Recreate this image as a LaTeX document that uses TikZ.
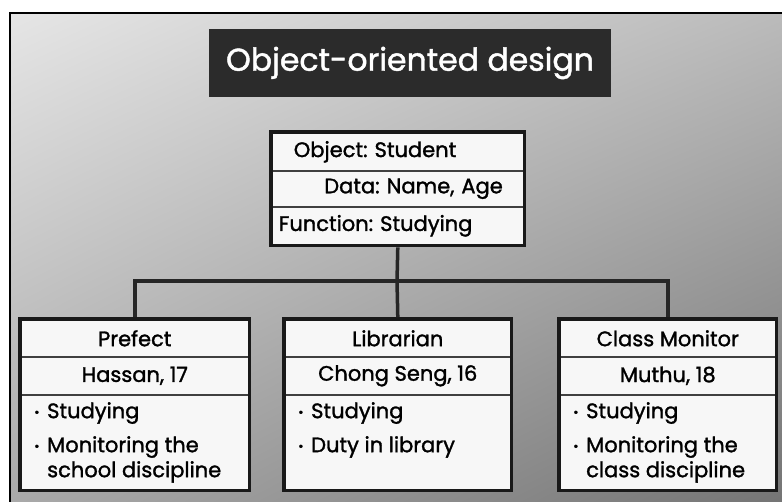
\documentclass[tikz,border=0pt]{standalone}
\usepackage{fontspec}
\setmainfont{Poppins}[FakeBold=1.4]
\usetikzlibrary{positioning,fit,shadings}

\newcommand\itembul{\makebox[13pt][l]{\raisebox{1.5pt}{\fontsize{13}{13}\selectfont\textbullet}}}
\frenchspacing

\begin{document}
\begin{tikzpicture}[x=1pt,y=-1pt,
		rowbox/.style={draw=black!75,line width=1.6pt,fill=black!3,anchor=north west,
			inner sep=0pt,font=\fontsize{21}{25}\selectfont,align=center},
		listtext/.style={anchor=north west,inner sep=0pt,align=left,
			font=\fontsize{21}{25}\selectfont},
		boxframe/.style={draw=black!90,line width=3.5pt,inner sep=0pt},
		link/.style={draw=black!85,line width=3.5pt},
		titlebox/.style={fill=black!83,text=white,minimum width=402pt,minimum height=68pt,
			font=\fontsize{31.5}{36}\selectfont}
	]

	\useasboundingbox (0,0) rectangle (782,501);
	\clip (0,0) rectangle (782,501);

	% slide background
	\shade[upper left=black!10,upper right=black!27,lower left=black!34,lower right=black!55]
		(10,13) rectangle (790,510);
	\draw[line width=1.5pt] (10,510) -- (10,13) -- (790,13);

	\node [titlebox] (title) at (410,63) {Object-oriented design};

	% the object
	\node [rowbox, text width=252pt, minimum height=38pt] (stuA) at (271,132)
		{\hspace*{22pt}Object: Student\hfill\null};
	\node [rowbox, text width=252pt, minimum height=36pt] (stuB) at (271,170)
		{\null\hfill Data: Name, Age\hspace*{21pt}\null};
	\node [rowbox, text width=252pt, minimum height=38pt] (stuC) at (271,206)
		{\hspace*{7pt}Function: Studying\hfill\null};
	\node [boxframe, fit=(stuA)(stuC)] (stu) {};

	% prefect
	\node [rowbox, minimum width=228pt, minimum height=37pt] (preA) at (20,319) {Prefect};
	\node [rowbox, minimum width=228pt, minimum height=38pt] (preB) at (20,356) {Hassan, 17};
	\node [rowbox, minimum width=228pt, minimum height=95pt] (preC) at (20,394) {};
	\node [listtext] (preL) at ([xshift=14pt,yshift=-8pt]preC.north west)
		{\itembul Studying\\[9pt]\itembul Monitoring the\\\hspace*{13pt}school discipline};
	\node [boxframe, fit=(preA)(preC)] (pre) {};

	% librarian
	\node [rowbox, minimum width=226pt, minimum height=37pt] (libA) at (284,319) {Librarian};
	\node [rowbox, minimum width=226pt, minimum height=38pt] (libB) at (284,356) {Chong Seng, 16};
	\node [rowbox, minimum width=226pt, minimum height=95pt] (libC) at (284,394) {};
	\node [listtext] (libL) at ([xshift=14pt,yshift=-8pt]libC.north west)
		{\itembul Studying\\[9pt]\itembul Duty in library};
	\node [boxframe, fit=(libA)(libC)] (lib) {};

	% class monitor
	\node [rowbox, minimum width=216pt, minimum height=37pt] (cmA) at (559,319) {Class Monitor};
	\node [rowbox, minimum width=216pt, minimum height=38pt] (cmB) at (559,356) {Muthu, 18};
	\node [rowbox, minimum width=216pt, minimum height=95pt] (cmC) at (559,394) {};
	\node [listtext] (cmL) at ([xshift=14pt,yshift=-8pt]cmC.north west)
		{\itembul Studying\\[9pt]\itembul Monitoring the\\\hspace*{13pt}class discipline};
	\node [boxframe, fit=(cmA)(cmC)] (cm) {};

	% tree lines
	\coordinate (jn) at (397,281);
	\draw [link] (stu.south) -- (jn);
	\draw [link] (pre.north) |- (jn) -| (cm.north);
	\draw [link] (jn) -- (lib.north);

\end{tikzpicture}
\end{document}
